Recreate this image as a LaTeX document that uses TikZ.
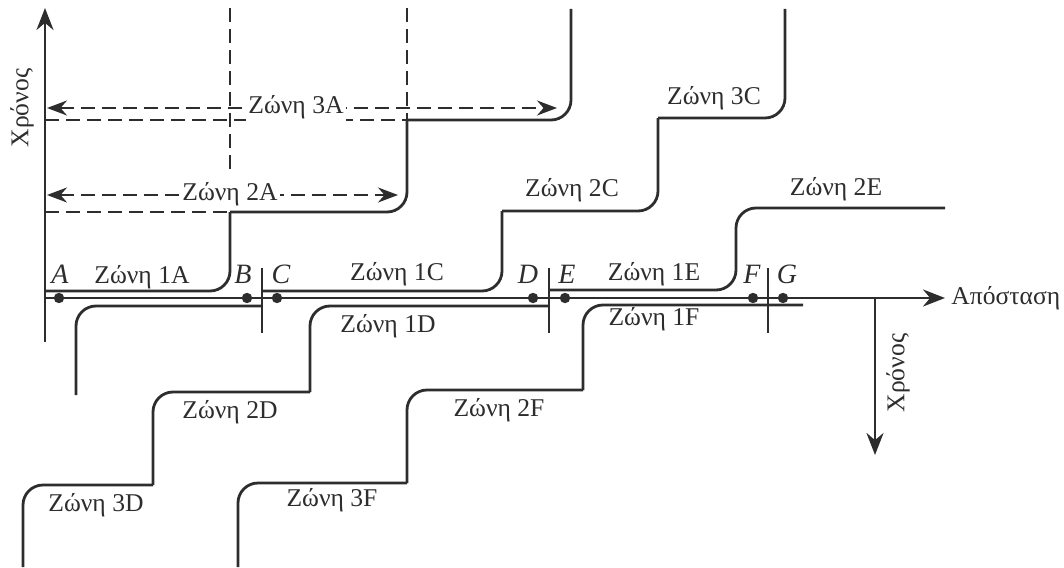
\documentclass[tikz,border=0pt]{standalone}
\usepackage{fontspec}
\setmainfont{Liberation Serif}
\usetikzlibrary{arrows.meta}
\definecolor{ink}{RGB}{45,45,45}
\tikzset{
  track/.style={draw=ink,line width=1.4pt,rounded corners=10pt},
  axisline/.style={draw=ink,line width=1.4pt,-{Stealth[length=11pt,width=8.5pt]}},
  tickline/.style={draw=ink,line width=1.2pt},
  dashline/.style={draw=ink,line width=1.3pt,dash pattern=on 7pt off 3.5pt},
  dimarrow/.style={draw=ink,line width=1pt,dash pattern=on 7pt off 3.5pt,
    {Stealth[length=10pt,width=7.5pt]}-{Stealth[length=10pt,width=7.5pt]}},
  station/.style={circle,fill=ink,inner sep=0pt,minimum size=5.2pt},
  zone/.style={text=ink,font=\fontsize{12.8}{15}\selectfont,inner sep=1pt},
  ptname/.style={text=ink,font=\fontsize{14}{16}\selectfont\itshape,inner sep=0pt}
}
\begin{document}
\begin{tikzpicture}[x=0.5pt,y=-0.5pt]
  \useasboundingbox (0,0) rectangle (1064,567);
  % axes
  \draw[axisline] (45,342) -- (45,8);
  \draw[axisline] (45,298) -- (945,298);
  \draw[axisline] (875,298) -- (875,455);
  \node[zone,rotate=90] (t1) at (22,108) {Χρόνος};
  \node[zone,rotate=90] (t2) at (898,373) {Χρόνος};
  \node[zone,anchor=west] (d) at (949,298) {Απόσταση};
  % dashed guides
  \draw[dashline] (45,212) -- (230,212);
  \draw[dashline] (45,120) -- (407,120);
  \draw[dashline] (230,8) -- (230,176);
  \draw[dashline] (407,8) -- (407,120);
  \draw[dimarrow] (47,108) -- (557,108);
  \draw[dimarrow] (47,195) -- (398,195);
  \node[zone,fill=white] (z3a) at (296,107) {Ζώνη 3A};
  \node[zone,fill=white] (z2a) at (230,194) {Ζώνη 2A};
  % zones above the line
  \draw[track] (45,291) -| (230,212);
  \draw[track] (230,212) -| (407,120);
  \draw[track] (407,120) -| (571,9);
  \draw[track] (262,291) -| (502,211);
  \draw[track] (502,211) -| (658,118);
  \draw[track] (658,118) -| (785,9);
  \draw[track] (549,290) -| (736,208) -- (945,208);
  % zones below the line
  \draw[track] (262,306) -| (76,395);
  \draw[track] (549,306) -| (310,392);
  \draw[track] (310,392) -| (153,485);
  \draw[track] (153,485) -| (23,567);
  \draw[track] (803,305) -| (583,390);
  \draw[track] (583,390) -| (407,483);
  \draw[track] (407,483) -| (238,567);
  \foreach \x in {262,549,768}
    \draw[tickline] (\x,268) -- (\x,333);
  \foreach \n/\x/\lx in {A/59/60,B/247/243,C/277/281,D/533/528,E/565/567,F/753/752,G/783/787} {
    \node[station] (\n) at (\x,298) {};
    \node[ptname] (\n l) at (\lx,274) {\n};
  }
  \foreach \n/\x/\y in {1A/142/277,1C/397/274,1E/654/274,1D/388/326,1F/654/319,
      2C/572/190,3C/714/98,2E/836/189,2D/230/412,3D/96/505,2F/499/410,3F/332/500}
    \node[zone] (z\n) at (\x,\y) {Ζώνη \n};
\end{tikzpicture}
\end{document}
